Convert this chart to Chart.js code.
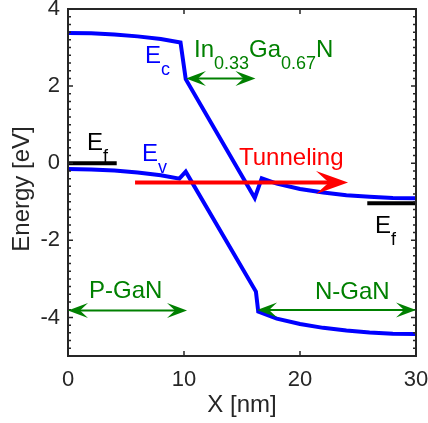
<!DOCTYPE html>
<html><head><meta charset="utf-8">
<script src="https://cdn.jsdelivr.net/npm/chart.js@4/dist/chart.umd.min.js"></script>
<style>html,body{margin:0;padding:0;background:#fff;overflow:hidden}#wrap{width:428px;height:423px}</style>
</head><body><div id="wrap"><canvas id="c" width="428" height="423"></canvas></div>
<script>
// ---- data ----
const ecX = [0, 2, 4, 6, 8, 9.7, 10.15, 16.1, 16.7, 18, 20, 22, 24, 26, 28, 30];
const ecY = [3.38, 3.37, 3.34, 3.29, 3.22, 3.13, 2.18, -0.9, -0.39, -0.53, -0.67, -0.76, -0.83, -0.87, -0.90, -0.91];
const evX = [0, 2, 4, 6, 8, 9.6, 10.15, 16.2, 16.4, 18, 20, 22, 24, 26, 28, 30];
const evY = [-0.15, -0.16, -0.19, -0.24, -0.31, -0.40, -0.22, -3.33, -3.85, -4.03, -4.17, -4.27, -4.34, -4.39, -4.42, -4.43];
const efLeftX = [0, 4.2];
const efLeftY = [0, 0];
const efRightX = [25.8, 30];
const efRightY = [-1.04, -1.04];
const xTicks = [0, 10, 20, 30];
const yTicks = [-4, -2, 0, 2, 4];
const xLabel = 'X [nm]';
const yLabel = 'Energy [eV]';

// annotation arrows: start x, end x, y (data units)
const arrowInGaN = [10.17, 16.16, 2.2];
const arrowPGaN = [0, 10.26, -3.82];
const arrowNGaN = [16.3, 30, -3.81];
const arrowTunnel = [5.78, 24.14, -0.5];

// annotation texts: parts [text, isSubscript], anchor (left x, baseline y) in data units
const texts = [
  {parts: [['E', 0], ['c', 1]], x: 6.64, y: 2.60, color: '#0000ff'},
  {parts: [['E', 0], ['v', 1]], x: 6.38, y: 0.06, color: '#0000ff'},
  {parts: [['E', 0], ['f', 1]], x: 1.64, y: 0.34, color: '#000000'},
  {parts: [['E', 0], ['f', 1]], x: 26.47, y: -1.81, color: '#000000'},
  {parts: [['In', 0], ['0.33', 1], ['Ga', 0], ['0.67', 1], ['N', 0]], x: 10.86, y: 2.75, color: '#008000'},
  {parts: [['Tunneling', 0]], x: 14.74, y: -0.05, color: '#ff0000'},
  {parts: [['P-GaN', 0]], x: 1.81, y: -3.50, color: '#008000'},
  {parts: [['N-GaN', 0]], x: 21.29, y: -3.52, color: '#008000'}
];

const AX = '#262626';
const FAM = '"Liberation Sans", Arial, sans-serif';

function pts(xs, ys) { return xs.map((x, i) => ({x: x, y: ys[i]})); }

function head(ctx, tx, ty, dir, len, wid) {
  ctx.beginPath();
  ctx.moveTo(tx, ty);
  ctx.lineTo(tx - dir * len, ty - wid / 2);
  ctx.lineTo(tx - dir * len * 0.6, ty);
  ctx.lineTo(tx - dir * len, ty + wid / 2);
  ctx.closePath();
  ctx.fill();
}

function drawArrow(ctx, xs, ys, a, color, lw, len, wid, both) {
  const x1 = xs.getPixelForValue(a[0]), x2 = xs.getPixelForValue(a[1]);
  const y = ys.getPixelForValue(a[2]);
  ctx.save();
  ctx.strokeStyle = color; ctx.fillStyle = color; ctx.lineWidth = lw;
  ctx.beginPath();
  ctx.moveTo(both ? x1 + len * 0.5 : x1, y);
  ctx.lineTo(x2 - len * 0.5, y);
  ctx.stroke();
  head(ctx, x2, y, 1, len, wid);
  if (both) head(ctx, x1, y, -1, len, wid);
  ctx.restore();
}

const annot = {
  id: 'annot',
  afterDatasetsDraw(chart) {
    const ctx = chart.ctx, xs = chart.scales.x, ys = chart.scales.y, a = chart.chartArea;
    // frame and inward ticks
    ctx.save();
    ctx.strokeStyle = AX; ctx.lineWidth = 2;
    ctx.strokeRect(a.left, a.top, a.right - a.left, a.bottom - a.top);
    ctx.lineWidth = 1.5;
    ctx.beginPath();
    for (const v of xTicks) {
      const px = xs.getPixelForValue(v);
      ctx.moveTo(px, a.bottom); ctx.lineTo(px, a.bottom - 5);
      ctx.moveTo(px, a.top); ctx.lineTo(px, a.top + 5);
    }
    for (let k = -25; k <= 20; k++) {
      const v = k / 5;
      const py = ys.getPixelForValue(v);
      const L = (k % 10 === 0) ? 5 : 3;
      ctx.moveTo(a.left, py); ctx.lineTo(a.left + L, py);
      ctx.moveTo(a.right, py); ctx.lineTo(a.right - L, py);
    }
    ctx.stroke();
    // y axis title
    ctx.translate(22, 189);
    ctx.rotate(-Math.PI / 2);
    ctx.font = '24px ' + FAM;
    ctx.fillStyle = AX;
    ctx.textAlign = 'center'; ctx.textBaseline = 'middle';
    ctx.fillText(yLabel, 0, 0);
    ctx.restore();
    // arrows
    drawArrow(ctx, xs, ys, arrowInGaN, '#008000', 2, 20, 15, true);
    drawArrow(ctx, xs, ys, arrowPGaN, '#008000', 2, 20, 15, true);
    drawArrow(ctx, xs, ys, arrowNGaN, '#008000', 2, 20, 15, true);
    drawArrow(ctx, xs, ys, arrowTunnel, '#ff0000', 4, 32, 23, false);
    // texts
    ctx.save();
    ctx.textBaseline = 'alphabetic'; ctx.textAlign = 'left';
    for (const t of texts) {
      let x = xs.getPixelForValue(t.x);
      const y = ys.getPixelForValue(t.y);
      ctx.fillStyle = t.color;
      for (const [s, sub] of t.parts) {
        ctx.font = (sub ? '18px ' : '24px ') + FAM;
        ctx.fillText(s, x, sub ? y + 12 : y);
        x += ctx.measureText(s).width;
      }
    }
    ctx.restore();
  }
};

new Chart(document.getElementById('c'), {
  type: 'scatter',
  data: {
    datasets: [
      {data: pts(ecX, ecY), showLine: true, borderColor: '#0000ff', borderWidth: 4, pointRadius: 0, tension: 0},
      {data: pts(evX, evY), showLine: true, borderColor: '#0000ff', borderWidth: 4, pointRadius: 0, tension: 0},
      {data: pts(efLeftX, efLeftY), showLine: true, borderColor: '#000000', borderWidth: 4, pointRadius: 0},
      {data: pts(efRightX, efRightY), showLine: true, borderColor: '#000000', borderWidth: 4, pointRadius: 0}
    ]
  },
  options: {
    responsive: false, animation: false,
    layout: {padding: {left: 0, right: 12, top: 9, bottom: 0}},
    plugins: {legend: {display: false}, tooltip: {enabled: false}},
    scales: {
      x: {
        type: 'linear', min: 0, max: 30,
        afterBuildTicks: s => { s.ticks = xTicks.map(v => ({value: v})); },
        ticks: {font: {family: FAM, size: 22}, color: AX, padding: 11, maxRotation: 0},
        grid: {display: false, drawTicks: false},
        border: {display: false},
        title: {display: true, text: xLabel, font: {family: FAM, size: 24}, color: AX, padding: {top: 0, bottom: 3}},
        afterFit: s => { s.height = 67; s.paddingLeft = 0; s.paddingRight = 0; }
      },
      y: {
        type: 'linear', min: -5, max: 4,
        afterBuildTicks: s => { s.ticks = yTicks.map(v => ({value: v})); },
        ticks: {font: {family: FAM, size: 22}, color: AX, padding: 8},
        grid: {display: false, drawTicks: false},
        border: {display: false},
        title: {display: false},
        afterFit: s => { s.width = 68; s.paddingTop = 0; s.paddingBottom = 0; }
      }
    }
  },
  plugins: [annot]
});
</script>
</body></html>
